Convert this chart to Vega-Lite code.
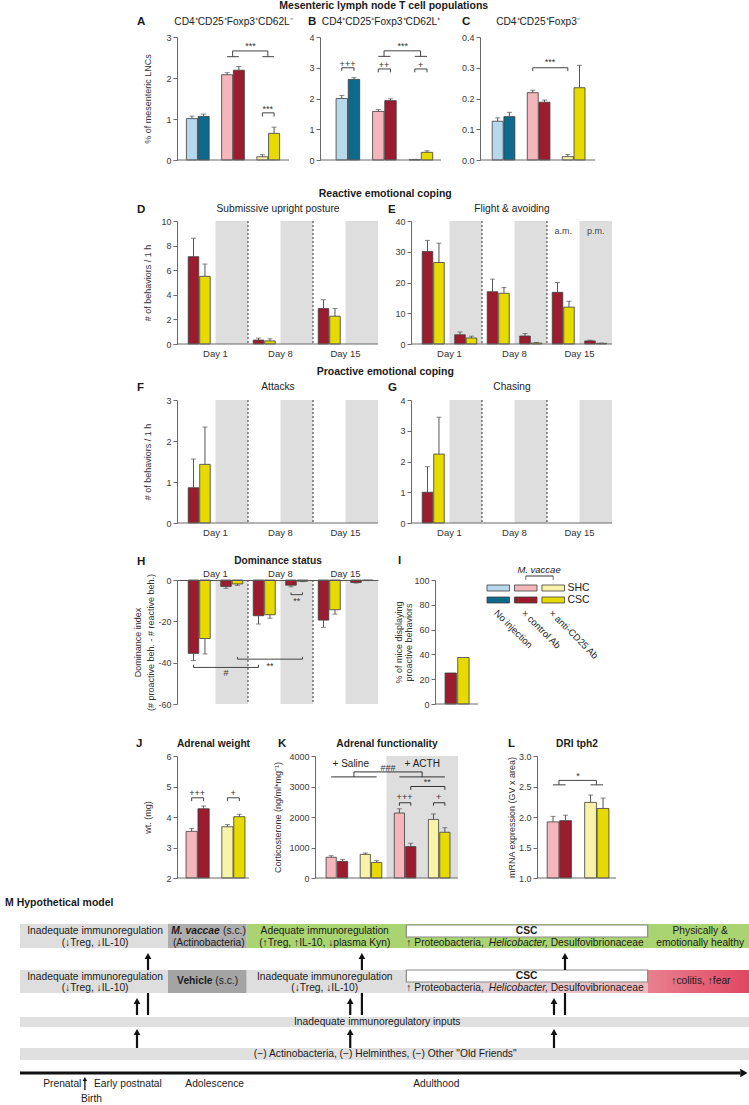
{
"$schema":"https://vega.github.io/schema/vega-lite/v6.json",
"padding":{"left":5,"top":1,"right":0,"bottom":0},
"spacing":0,
"resolve":{"scale":{"color":"independent"}},
"datasets":{
"bars":[
{"p":"A","slot":"noinj_SHC","grp":"noinj_SHC","m":1.01,"hi":1.07},{"p":"A","slot":"noinj_CSC","grp":"noinj_CSC","m":1.06,"hi":1.12},{"p":"A","slot":"ctrl_SHC","grp":"ctrl_SHC","m":2.08,"hi":2.13},{"p":"A","slot":"ctrl_CSC","grp":"ctrl_CSC","m":2.19,"hi":2.28},{"p":"A","slot":"anti_SHC","grp":"anti_SHC","m":0.08,"hi":0.13},{"p":"A","slot":"anti_CSC","grp":"anti_CSC","m":0.65,"hi":0.8},
{"p":"B","slot":"noinj_SHC","grp":"noinj_SHC","m":2.0,"hi":2.1},{"p":"B","slot":"noinj_CSC","grp":"noinj_CSC","m":2.62,"hi":2.68},{"p":"B","slot":"ctrl_SHC","grp":"ctrl_SHC","m":1.58,"hi":1.64},{"p":"B","slot":"ctrl_CSC","grp":"ctrl_CSC","m":1.93,"hi":1.99},{"p":"B","slot":"anti_SHC","grp":"anti_SHC","m":0.01,"hi":0.02},{"p":"B","slot":"anti_CSC","grp":"anti_CSC","m":0.25,"hi":0.3},
{"p":"C","slot":"noinj_SHC","grp":"noinj_SHC","m":0.126,"hi":0.137},{"p":"C","slot":"noinj_CSC","grp":"noinj_CSC","m":0.141,"hi":0.155},{"p":"C","slot":"ctrl_SHC","grp":"ctrl_SHC","m":0.219,"hi":0.227},{"p":"C","slot":"ctrl_CSC","grp":"ctrl_CSC","m":0.188,"hi":0.195},{"p":"C","slot":"anti_SHC","grp":"anti_SHC","m":0.011,"hi":0.018},{"p":"C","slot":"anti_CSC","grp":"anti_CSC","m":0.235,"hi":0.308},
{"p":"I","slot":"ctrl_CSC","grp":"ctrl_CSC","m":25},{"p":"I","slot":"anti_CSC","grp":"anti_CSC","m":37.5},
{"p":"J","slot":"ctrl_SHC","grp":"ctrl_SHC","m":3.53,"hi":3.62},{"p":"J","slot":"ctrl_CSC","grp":"ctrl_CSC","m":4.27,"hi":4.36},{"p":"J","slot":"anti_SHC","grp":"anti_SHC","m":3.68,"hi":3.75},{"p":"J","slot":"anti_CSC","grp":"anti_CSC","m":4.01,"hi":4.09},
{"p":"K","slot":"sal_ctrl_SHC","grp":"ctrl_SHC","m":680,"hi":730},{"p":"K","slot":"sal_ctrl_CSC","grp":"ctrl_CSC","m":545,"hi":610},{"p":"K","slot":"sal_anti_SHC","grp":"anti_SHC","m":775,"hi":820},{"p":"K","slot":"sal_anti_CSC","grp":"anti_CSC","m":510,"hi":570},{"p":"K","slot":"acth_ctrl_SHC","grp":"ctrl_SHC","m":2130,"hi":2270},{"p":"K","slot":"acth_ctrl_CSC","grp":"ctrl_CSC","m":1030,"hi":1140},{"p":"K","slot":"acth_anti_SHC","grp":"anti_SHC","m":1920,"hi":2100},{"p":"K","slot":"acth_anti_CSC","grp":"anti_CSC","m":1500,"hi":1650},
{"p":"L","slot":"ctrl_SHC","grp":"ctrl_SHC","m":1.92,"hi":2.01},{"p":"L","slot":"ctrl_CSC","grp":"ctrl_CSC","m":1.94,"hi":2.03},{"p":"L","slot":"anti_SHC","grp":"anti_SHC","m":2.24,"hi":2.36},{"p":"L","slot":"anti_CSC","grp":"anti_CSC","m":2.14,"hi":2.31}
],
"brkC":[
{"p":"A","id":"a1","slot":"ctrl_SHC","y":2.52,"o":1},{"p":"A","id":"a1","slot":"ctrl_CSC","y":2.52,"o":2},
{"p":"A","id":"a2","slot":"anti_SHC","y":2.52,"o":1},{"p":"A","id":"a2","slot":"anti_CSC","y":2.52,"o":2},
{"p":"A","id":"a3","slot":"anti_SHC","y":1.06,"o":1},{"p":"A","id":"a3","slot":"anti_SHC","y":1.15,"o":2},{"p":"A","id":"a3","slot":"anti_CSC","y":1.15,"o":3},{"p":"A","id":"a3","slot":"anti_CSC","y":1.06,"o":4},
{"p":"B","id":"b1","slot":"noinj_SHC","y":2.9,"o":1},{"p":"B","id":"b1","slot":"noinj_SHC","y":3.0,"o":2},{"p":"B","id":"b1","slot":"noinj_CSC","y":3.0,"o":3},{"p":"B","id":"b1","slot":"noinj_CSC","y":2.9,"o":4},
{"p":"B","id":"b2","slot":"ctrl_SHC","y":2.85,"o":1},{"p":"B","id":"b2","slot":"ctrl_SHC","y":2.96,"o":2},{"p":"B","id":"b2","slot":"ctrl_CSC","y":2.96,"o":3},{"p":"B","id":"b2","slot":"ctrl_CSC","y":2.85,"o":4},
{"p":"B","id":"b3","slot":"anti_SHC","y":2.85,"o":1},{"p":"B","id":"b3","slot":"anti_SHC","y":2.96,"o":2},{"p":"B","id":"b3","slot":"anti_CSC","y":2.96,"o":3},{"p":"B","id":"b3","slot":"anti_CSC","y":2.85,"o":4},
{"p":"B","id":"b4","slot":"ctrl_SHC","y":3.37,"o":1},{"p":"B","id":"b4","slot":"ctrl_CSC","y":3.37,"o":2},
{"p":"B","id":"b5","slot":"anti_SHC","y":3.37,"o":1},{"p":"B","id":"b5","slot":"anti_CSC","y":3.37,"o":2},
{"p":"C","id":"c1","slot":"ctrl_SHC","y":0.289,"o":1},{"p":"C","id":"c1","slot":"ctrl_SHC","y":0.3,"o":2},{"p":"C","id":"c1","slot":"anti_SHC","y":0.3,"o":3},{"p":"C","id":"c1","slot":"anti_SHC","y":0.289,"o":4},
{"p":"J","id":"j1","slot":"ctrl_SHC","y":4.52,"o":1},{"p":"J","id":"j1","slot":"ctrl_SHC","y":4.63,"o":2},{"p":"J","id":"j1","slot":"ctrl_CSC","y":4.63,"o":3},{"p":"J","id":"j1","slot":"ctrl_CSC","y":4.52,"o":4},
{"p":"J","id":"j2","slot":"anti_SHC","y":4.52,"o":1},{"p":"J","id":"j2","slot":"anti_SHC","y":4.63,"o":2},{"p":"J","id":"j2","slot":"anti_CSC","y":4.63,"o":3},{"p":"J","id":"j2","slot":"anti_CSC","y":4.52,"o":4},
{"p":"K","id":"k1","slot":"sal_ctrl_SHC","y":3315,"o":1},{"p":"K","id":"k1","slot":"sal_anti_CSC","y":3315,"o":2},
{"p":"K","id":"k2","slot":"acth_ctrl_SHC","y":3315,"o":1},{"p":"K","id":"k2","slot":"acth_anti_CSC","y":3315,"o":2},
{"p":"K","id":"k3","slot":"g1","y":3315,"o":1},{"p":"K","id":"k3","slot":"g1","y":3478,"o":2},{"p":"K","id":"k3","slot":"g3","y":3478,"o":3},{"p":"K","id":"k3","slot":"g3","y":3315,"o":4},
{"p":"K","id":"k4","slot":"acth_ctrl_CSC","y":2890,"o":1},{"p":"K","id":"k4","slot":"acth_ctrl_CSC","y":3000,"o":2},{"p":"K","id":"k4","slot":"acth_anti_CSC","y":3000,"o":3},{"p":"K","id":"k4","slot":"acth_anti_CSC","y":2890,"o":4},
{"p":"K","id":"k5","slot":"acth_ctrl_SHC","y":2370,"o":1},{"p":"K","id":"k5","slot":"acth_ctrl_SHC","y":2467,"o":2},{"p":"K","id":"k5","slot":"acth_ctrl_CSC","y":2467,"o":3},{"p":"K","id":"k5","slot":"acth_ctrl_CSC","y":2370,"o":4},
{"p":"K","id":"k6","slot":"acth_anti_SHC","y":2370,"o":1},{"p":"K","id":"k6","slot":"acth_anti_SHC","y":2467,"o":2},{"p":"K","id":"k6","slot":"acth_anti_CSC","y":2467,"o":3},{"p":"K","id":"k6","slot":"acth_anti_CSC","y":2370,"o":4},
{"p":"L","id":"l1","slot":"ctrl_SHC","y":2.527,"o":1},{"p":"L","id":"l1","slot":"ctrl_CSC","y":2.527,"o":2},
{"p":"L","id":"l2","slot":"anti_SHC","y":2.527,"o":1},{"p":"L","id":"l2","slot":"anti_CSC","y":2.527,"o":2}
],
"brkE":[
{"p":"A","id":"ae","slot":"ctrl_SHC","y":2.52,"o":1},{"p":"A","id":"ae","slot":"ctrl_SHC","y":2.66,"o":2},{"p":"A","id":"ae","slot":"anti_SHC","y":2.66,"o":3},{"p":"A","id":"ae","slot":"anti_SHC","y":2.52,"o":4},
{"p":"B","id":"be","slot":"ctrl_SHC","y":3.37,"o":1},{"p":"B","id":"be","slot":"ctrl_SHC","y":3.55,"o":2},{"p":"B","id":"be","slot":"anti_SHC","y":3.55,"o":3},{"p":"B","id":"be","slot":"anti_SHC","y":3.37,"o":4},
{"p":"L","id":"le","slot":"ctrl_SHC","y":2.527,"o":1},{"p":"L","id":"le","slot":"ctrl_SHC","y":2.6,"o":2},{"p":"L","id":"le","slot":"anti_SHC","y":2.6,"o":3},{"p":"L","id":"le","slot":"anti_SHC","y":2.527,"o":4}
],
"sigC":[
{"p":"A","slot":"g2","y":2.78,"t":"***"},{"p":"B","slot":"g2","y":3.7,"t":"***"},{"p":"K","slot":"g2","y":3610,"t":"###"},{"p":"L","slot":"g1","y":2.68,"t":"*"}
],
"sigE":[
{"p":"A","slot":"anti_SHC","y":1.24,"t":"***"},
{"p":"B","slot":"noinj_SHC","y":3.13,"t":"+++"},{"p":"B","slot":"ctrl_SHC","y":3.09,"t":"++"},{"p":"B","slot":"anti_SHC","y":3.09,"t":"+"},
{"p":"C","slot":"ctrl_CSC","y":0.318,"t":"***"},
{"p":"J","slot":"ctrl_SHC","y":4.79,"t":"+++"},{"p":"J","slot":"anti_SHC","y":4.79,"t":"+"},
{"p":"K","slot":"g3","y":3160,"t":"**"},{"p":"K","slot":"acth_ctrl_SHC","y":2640,"t":"+++"},{"p":"K","slot":"acth_anti_SHC","y":2640,"t":"+"}
],
"dbars":[
{"p":"D","slot":"d1am","grp":"ctrl_CSC","m":7.1,"hi":8.6},{"p":"D","slot":"d1am","grp":"anti_CSC","m":5.5,"hi":6.5},{"p":"D","slot":"d8am","grp":"ctrl_CSC","m":0.32,"hi":0.48},{"p":"D","slot":"d8am","grp":"anti_CSC","m":0.25,"hi":0.42},{"p":"D","slot":"d15am","grp":"ctrl_CSC","m":2.88,"hi":3.6},{"p":"D","slot":"d15am","grp":"anti_CSC","m":2.26,"hi":2.88},
{"p":"E","slot":"d1am","grp":"ctrl_CSC","m":30.05,"hi":33.7},{"p":"E","slot":"d1am","grp":"anti_CSC","m":26.5,"hi":32.8},{"p":"E","slot":"d1pm","grp":"ctrl_CSC","m":3.0,"hi":3.9},{"p":"E","slot":"d1pm","grp":"anti_CSC","m":1.95,"hi":2.55},{"p":"E","slot":"d8am","grp":"ctrl_CSC","m":17,"hi":21.1},{"p":"E","slot":"d8am","grp":"anti_CSC","m":16.5,"hi":18.4},{"p":"E","slot":"d8pm","grp":"ctrl_CSC","m":2.6,"hi":3.4},{"p":"E","slot":"d8pm","grp":"anti_CSC","m":0.3,"hi":0.5},{"p":"E","slot":"d15am","grp":"ctrl_CSC","m":16.8,"hi":20.0},{"p":"E","slot":"d15am","grp":"anti_CSC","m":12,"hi":13.9},{"p":"E","slot":"d15pm","grp":"ctrl_CSC","m":1.0,"hi":1.25},{"p":"E","slot":"d15pm","grp":"anti_CSC","m":0.2,"hi":0.3},
{"p":"F","slot":"d1am","grp":"ctrl_CSC","m":0.86,"hi":1.56},{"p":"F","slot":"d1am","grp":"anti_CSC","m":1.43,"hi":2.34},
{"p":"G","slot":"d1am","grp":"ctrl_CSC","m":1.0,"hi":1.83},{"p":"G","slot":"d1am","grp":"anti_CSC","m":2.24,"hi":3.44},
{"p":"H","slot":"d1am","grp":"ctrl_CSC","m":-35.5,"hi":-39},{"p":"H","slot":"d1am","grp":"anti_CSC","m":-28.3,"hi":-35.8},{"p":"H","slot":"d1pm","grp":"ctrl_CSC","m":-3.1,"hi":-4.0},{"p":"H","slot":"d1pm","grp":"anti_CSC","m":-1.9,"hi":-2.6},{"p":"H","slot":"d8am","grp":"ctrl_CSC","m":-17.3,"hi":-21.3},{"p":"H","slot":"d8am","grp":"anti_CSC","m":-16.8,"hi":-18.5},{"p":"H","slot":"d8pm","grp":"ctrl_CSC","m":-2.5,"hi":-3.3},{"p":"H","slot":"d8pm","grp":"anti_CSC","m":-0.6,"hi":-0.8},{"p":"H","slot":"d15am","grp":"ctrl_CSC","m":-19.4,"hi":-22.9},{"p":"H","slot":"d15am","grp":"anti_CSC","m":-14.4,"hi":-16.5},{"p":"H","slot":"d15pm","grp":"ctrl_CSC","m":-1.2,"hi":-1.5},{"p":"H","slot":"d15pm","grp":"anti_CSC","m":-0.2,"hi":-0.3}
],
"dgray":[{"slot":"d1pm"},{"slot":"d8pm"},{"slot":"d15pm"}],
"dsep":[{"slot":"d8am"},{"slot":"d15am"}],
"dlab":[{"slot":"d1am","t":"Day 1"},{"slot":"d8am","t":"Day 8"},{"slot":"d15am","t":"Day 15"}],
"dnote":[{"p":"E","slot":"d15am","y":36.8,"t":"a.m."},{"p":"E","slot":"d15pm","y":36.8,"t":"p.m."},{"p":"H","slot":"d8pm","y":-10.3,"t":"**"}],
"dbrk":[
{"p":"H","id":"h1","slot":"d8pm","grp":"ctrl_CSC","y":-6.0,"o":1},{"p":"H","id":"h1","slot":"d8pm","grp":"ctrl_CSC","y":-7.1,"o":2},{"p":"H","id":"h1","slot":"d8pm","grp":"anti_CSC","y":-7.1,"o":3},{"p":"H","id":"h1","slot":"d8pm","grp":"anti_CSC","y":-6.0,"o":4},
{"p":"H","id":"h2","slot":"d1am","grp":"ctrl_CSC","y":-41.0,"o":1},{"p":"H","id":"h2","slot":"d1am","grp":"ctrl_CSC","y":-42.3,"o":2},{"p":"H","id":"h2","slot":"d8am","grp":"ctrl_CSC","y":-42.3,"o":3},{"p":"H","id":"h2","slot":"d8am","grp":"ctrl_CSC","y":-41.0,"o":4},
{"p":"H","id":"h3","slot":"d1pm","grp":"anti_CSC","y":-37.2,"o":1},{"p":"H","id":"h3","slot":"d1pm","grp":"anti_CSC","y":-38.3,"o":2},{"p":"H","id":"h3","slot":"d8pm","grp":"anti_CSC","y":-38.3,"o":3},{"p":"H","id":"h3","slot":"d8pm","grp":"anti_CSC","y":-37.2,"o":4}
],
"dsig":[{"p":"H","slot":"d1pm","grp":"ctrl_CSC","y":-44.8,"t":"#"},{"p":"H","slot":"d8am","grp":"anti_CSC","y":-41.6,"t":"**"}],
"leg":[{"col":"noinj","row":"SHC","grp":"noinj_SHC"},{"col":"noinj","row":"CSC","grp":"noinj_CSC"},{"col":"ctrl","row":"SHC","grp":"ctrl_SHC"},{"col":"ctrl","row":"CSC","grp":"ctrl_CSC"},{"col":"anti","row":"SHC","grp":"anti_SHC"},{"col":"anti","row":"CSC","grp":"anti_CSC"}],
"legrow":[{"col":"anti","row":"SHC"},{"col":"anti","row":"CSC"}],
"legcol":[{"col":"noinj","row":"CSC","t":"No injection"},{"col":"ctrl","row":"CSC","t":"× control Ab"},{"col":"anti","row":"CSC","t":"× anti-CD25 Ab"}],
"legmv":[{"from":"ctrl","to":"anti","row":"SHC","t":"M. vaccae"}],
"legbr":[{"col":"ctrl","row":"SHC"},{"col":"anti","row":"SHC"}],
"kcond":[{"c":"Saline","t":"+ Saline"},{"c":"ACTH","t":"+ ACTH"}],
"mbox":[
{"x1":0,"x2":20.3,"y1":4,"y2":28,"k":"inadequate"},{"x1":20.3,"x2":31.1,"y1":4,"y2":28,"k":"mvaccae"},{"x1":31.1,"x2":100,"y1":4,"y2":28,"k":"adequate"},
{"x1":0,"x2":20.3,"y1":50,"y2":73,"k":"inadequate"},{"x1":20.3,"x2":31.1,"y1":50,"y2":73,"k":"vehicle"},{"x1":31.1,"x2":53,"y1":50,"y2":73,"k":"inadequate"},
{"x1":0,"x2":100,"y1":97,"y2":107,"k":"inputs"},{"x1":0,"x2":100,"y1":128,"y2":140,"k":"inputs"}
],
"mg1":[{"x1":53,"x2":86.1,"y1":50,"y2":73}],
"mg2":[{"x1":86.1,"x2":100,"y1":50,"y2":73}],
"mwhite":[{"x1":53,"x2":86.1,"y1":5,"y2":17},{"x1":53,"x2":86.1,"y1":50,"y2":62}],
"mshaft":[
{"x":17.56,"y1":50,"y2":37},{"x":46.9,"y1":50,"y2":37},{"x":74.76,"y1":50,"y2":37},
{"x":16.05,"y1":95,"y2":82},{"x":45.3,"y1":95,"y2":82},{"x":73.25,"y1":95,"y2":82},
{"x":17.56,"y1":73,"y2":95},{"x":46.9,"y1":73,"y2":95},{"x":74.76,"y1":73,"y2":95},
{"x":16.05,"y1":128,"y2":113},{"x":45.3,"y1":128,"y2":113},{"x":73.25,"y1":128,"y2":113}
],
"mhead":[{"x":17.56,"y":36},{"x":46.9,"y":36},{"x":74.76,"y":36},{"x":16.05,"y":81},{"x":45.3,"y":81},{"x":73.25,"y":81},{"x":16.05,"y":112},{"x":45.3,"y":112},{"x":73.25,"y":112}],
"mbirth":[{"x":8.9,"y1":170,"y2":160}],
"mbirthhead":[{"x":8.9,"y":159}],
"mtime":[{"x1":0,"x2":98.8,"y":153}],
"mtimehead":[{"x":99.3,"y":153}],
"mtc":[
{"x":10.3,"y":11,"t":"Inadequate immunoregulation"},{"x":10.3,"y":23,"t":"(↓Treg, ↓IL-10)"},{"x":25.9,"y":23,"t":"(Actinobacteria)"},
{"x":41.8,"y":11,"t":"Adequate immunoregulation"},{"x":41.8,"y":23,"t":"(↑Treg, ↑IL-10, ↓plasma Kyn)"},
{"x":93.3,"y":11,"t":"Physically &"},{"x":93.3,"y":23,"t":"emotionally healthy"},
{"x":10.3,"y":57,"t":"Inadequate immunoregulation"},{"x":10.3,"y":68,"t":"(↓Treg, ↓IL-10)"},
{"x":41.8,"y":57,"t":"Inadequate immunoregulation"},{"x":41.8,"y":68,"t":"(↓Treg, ↓IL-10)"},
{"x":93.4,"y":61,"t":"↑colitis, ↑fear"},
{"x":49.0,"y":102,"t":"Inadequate immunoregulatory inputs"},
{"x":50.1,"y":134,"t":"(−) Actinobacteria, (−) Helminthes, (−) Other \"Old Friends\""},
{"x":5.8,"y":164,"t":"Prenatal"},{"x":14.8,"y":164,"t":"Early postnatal"},{"x":26.7,"y":164,"t":"Adolescence"},{"x":57.1,"y":164,"t":"Adulthood"},{"x":9.8,"y":179,"t":"Birth"}
],
"mtb":[{"x":69.5,"y":11,"t":"CSC"},{"x":69.5,"y":56,"t":"CSC"}],
"mtbil":[{"x":20.75,"y":11,"t":"M. vaccae"}],
"mtbr":[{"x":26.4,"y":61,"t":"Vehicle"}],
"mtl":[{"x":27.85,"y":11,"t":"(s.c.)"},{"x":26.8,"y":61,"t":"(s.c.)"},{"x":53,"y":23,"t":"↑ Proteobacteria,"},{"x":72.8,"y":23,"t":"Desulfovibrionaceae"},{"x":53,"y":68,"t":"↑ Proteobacteria,"},{"x":72.8,"y":68,"t":"Desulfovibrionaceae"}],
"mtil":[{"x":64.3,"y":23,"t":"Helicobacter,"},{"x":64.3,"y":68,"t":"Helicobacter,"}]
},
"vconcat":[
{"title":{"text":"Mesenteric lymph node T cell populations","fontSize":10.5,"anchor":"middle","offset":4.5,"dx":76},
 "spacing":0,
 "hconcat":[
  {"width":117,"height":1,"data":{"values":[]},"mark":"point"},
  {"width":112,"height":123,"title":{"text":"A","anchor":"start","frame":"group","dx":-40,"dy":15.5},
   "layer":[
    {"data":{"name":"bars"},"transform":[{"filter":"datum.p==='A'"}],"mark":{"type":"bar","stroke":"#3c3c3c","strokeWidth":0.8},
     "encoding":{"x":{"field":"slot","type":"nominal","scale":{"domain":["noinj_SHC","noinj_CSC","g1","ctrl_SHC","ctrl_CSC","g2","anti_SHC","anti_CSC"],"paddingInner":0.06,"paddingOuter":0.8},"axis":{"orient":"top","title":"CD4⁺CD25⁺Foxp3⁺CD62L⁻","titlePadding":11}},
      "y":{"field":"m","type":"quantitative","scale":{"domain":[0,3],"nice":false},"axis":{"values":[0,1,2,3],"format":"d","tickCount":12,"labelOverlap":false,"title":"% of mesenteric LNCs","titlePadding":13.5}},
      "color":{"field":"grp","type":"nominal","scale":{"domain":["noinj_SHC","noinj_CSC","ctrl_SHC","ctrl_CSC","anti_SHC","anti_CSC"],"range":["#b8d8eb","#0d6a8d","#f4b6ba","#9c1c2f","#f8f3a8","#e6da00"]},"legend":null}}},
    {"data":{"name":"bars"},"transform":[{"filter":"datum.p==='A'"}],"mark":{"type":"rule","color":"#555"},"encoding":{"x":{"field":"slot","type":"nominal"},"y":{"field":"m","type":"quantitative"},"y2":{"field":"hi"}}},
    {"data":{"name":"bars"},"transform":[{"filter":"datum.p==='A'"}],"mark":{"type":"tick","color":"#555","size":5,"thickness":1},"encoding":{"x":{"field":"slot","type":"nominal"},"y":{"field":"hi","type":"quantitative"}}},
    {"data":{"values":[{}]},"mark":{"type":"rule","color":"#6a6a6a"},"encoding":{"y":{"datum":0,"type":"quantitative"}}},
    {"data":{"name":"brkC"},"transform":[{"filter":"datum.p==='A'"}],"mark":{"type":"line","color":"#444","strokeWidth":1},"encoding":{"x":{"field":"slot","type":"nominal"},"y":{"field":"y","type":"quantitative"},"detail":{"field":"id"},"order":{"field":"o"}}},
    {"data":{"name":"brkE"},"transform":[{"filter":"datum.p==='A'"}],"mark":{"type":"line","color":"#444","strokeWidth":1},"encoding":{"x":{"field":"slot","type":"nominal","bandPosition":1},"y":{"field":"y","type":"quantitative"},"detail":{"field":"id"},"order":{"field":"o"}}},
    {"data":{"name":"sigC"},"transform":[{"filter":"datum.p==='A'"}],"mark":{"type":"text","fontSize":9,"color":"#333","baseline":"middle"},"encoding":{"x":{"field":"slot","type":"nominal"},"y":{"field":"y","type":"quantitative"},"text":{"field":"t"}}},
    {"data":{"name":"sigE"},"transform":[{"filter":"datum.p==='A'"}],"mark":{"type":"text","fontSize":9,"color":"#333","baseline":"middle"},"encoding":{"x":{"field":"slot","type":"nominal","bandPosition":1},"y":{"field":"y","type":"quantitative"},"text":{"field":"t"}}}
   ]},
  {"width":14.5,"height":1,"data":{"values":[]},"mark":"point"},
  {"width":121,"height":123,"title":{"text":"B","anchor":"start","frame":"group","dx":-12,"dy":15.5},
   "layer":[
    {"data":{"name":"bars"},"transform":[{"filter":"datum.p==='B'"}],"mark":{"type":"bar","stroke":"#3c3c3c","strokeWidth":0.8},
     "encoding":{"x":{"field":"slot","type":"nominal","scale":{"domain":["noinj_SHC","noinj_CSC","g1","ctrl_SHC","ctrl_CSC","g2","anti_SHC","anti_CSC"],"paddingInner":0.06,"paddingOuter":1.17,"align":0.66},"axis":{"orient":"top","title":"CD4⁺CD25⁺Foxp3⁺CD62L⁺","titlePadding":11}},
      "y":{"field":"m","type":"quantitative","scale":{"domain":[0,4],"nice":false},"axis":{"values":[0,1,2,3,4],"format":"d","tickCount":12,"labelOverlap":false,"title":null}},
      "color":{"field":"grp","type":"nominal","scale":{"domain":["noinj_SHC","noinj_CSC","ctrl_SHC","ctrl_CSC","anti_SHC","anti_CSC"],"range":["#b8d8eb","#0d6a8d","#f4b6ba","#9c1c2f","#f8f3a8","#e6da00"]},"legend":null}}},
    {"data":{"name":"bars"},"transform":[{"filter":"datum.p==='B'"}],"mark":{"type":"rule","color":"#555"},"encoding":{"x":{"field":"slot","type":"nominal"},"y":{"field":"m","type":"quantitative"},"y2":{"field":"hi"}}},
    {"data":{"name":"bars"},"transform":[{"filter":"datum.p==='B'"}],"mark":{"type":"tick","color":"#555","size":5,"thickness":1},"encoding":{"x":{"field":"slot","type":"nominal"},"y":{"field":"hi","type":"quantitative"}}},
    {"data":{"values":[{}]},"mark":{"type":"rule","color":"#6a6a6a"},"encoding":{"y":{"datum":0,"type":"quantitative"}}},
    {"data":{"name":"brkC"},"transform":[{"filter":"datum.p==='B'"}],"mark":{"type":"line","color":"#444","strokeWidth":1},"encoding":{"x":{"field":"slot","type":"nominal"},"y":{"field":"y","type":"quantitative"},"detail":{"field":"id"},"order":{"field":"o"}}},
    {"data":{"name":"brkE"},"transform":[{"filter":"datum.p==='B'"}],"mark":{"type":"line","color":"#444","strokeWidth":1},"encoding":{"x":{"field":"slot","type":"nominal","bandPosition":1},"y":{"field":"y","type":"quantitative"},"detail":{"field":"id"},"order":{"field":"o"}}},
    {"data":{"name":"sigC"},"transform":[{"filter":"datum.p==='B'"}],"mark":{"type":"text","fontSize":9,"color":"#333","baseline":"middle"},"encoding":{"x":{"field":"slot","type":"nominal"},"y":{"field":"y","type":"quantitative"},"text":{"field":"t"}}},
    {"data":{"name":"sigE"},"transform":[{"filter":"datum.p==='B'"}],"mark":{"type":"text","fontSize":9,"color":"#333","baseline":"middle"},"encoding":{"x":{"field":"slot","type":"nominal","bandPosition":1},"y":{"field":"y","type":"quantitative"},"text":{"field":"t"}}}
   ]},
  {"width":19,"height":1,"data":{"values":[]},"mark":"point"},
  {"width":115,"height":123,"title":{"text":"C","anchor":"start","frame":"group","dx":-18,"dy":15.5},
   "layer":[
    {"data":{"name":"bars"},"transform":[{"filter":"datum.p==='C'"}],"mark":{"type":"bar","stroke":"#3c3c3c","strokeWidth":0.8},
     "encoding":{"x":{"field":"slot","type":"nominal","scale":{"domain":["noinj_SHC","noinj_CSC","g1","ctrl_SHC","ctrl_CSC","g2","anti_SHC","anti_CSC"],"paddingInner":0.06,"paddingOuter":0.95,"align":0.55},"axis":{"orient":"top","title":"CD4⁺CD25⁺Foxp3⁻","titlePadding":11}},
      "y":{"field":"m","type":"quantitative","scale":{"domain":[0,0.4],"nice":false},"axis":{"values":[0,0.1,0.2,0.3,0.4],"tickCount":12,"labelOverlap":false,"format":".1f","title":null}},
      "color":{"field":"grp","type":"nominal","scale":{"domain":["noinj_SHC","noinj_CSC","ctrl_SHC","ctrl_CSC","anti_SHC","anti_CSC"],"range":["#b8d8eb","#0d6a8d","#f4b6ba","#9c1c2f","#f8f3a8","#e6da00"]},"legend":null}}},
    {"data":{"name":"bars"},"transform":[{"filter":"datum.p==='C'"}],"mark":{"type":"rule","color":"#555"},"encoding":{"x":{"field":"slot","type":"nominal"},"y":{"field":"m","type":"quantitative"},"y2":{"field":"hi"}}},
    {"data":{"name":"bars"},"transform":[{"filter":"datum.p==='C'"}],"mark":{"type":"tick","color":"#555","size":5,"thickness":1},"encoding":{"x":{"field":"slot","type":"nominal"},"y":{"field":"hi","type":"quantitative"}}},
    {"data":{"values":[{}]},"mark":{"type":"rule","color":"#6a6a6a"},"encoding":{"y":{"datum":0,"type":"quantitative"}}},
    {"data":{"name":"brkC"},"transform":[{"filter":"datum.p==='C'"}],"mark":{"type":"line","color":"#444","strokeWidth":1},"encoding":{"x":{"field":"slot","type":"nominal"},"y":{"field":"y","type":"quantitative"},"detail":{"field":"id"},"order":{"field":"o"}}},
    {"data":{"name":"sigE"},"transform":[{"filter":"datum.p==='C'"}],"mark":{"type":"text","fontSize":9,"color":"#333","baseline":"middle"},"encoding":{"x":{"field":"slot","type":"nominal","bandPosition":1},"y":{"field":"y","type":"quantitative"},"text":{"field":"t"}}}
   ]}
 ]},
{"width":1,"height":23,"data":{"values":[]},"mark":"point"},
{"title":{"text":"Reactive emotional coping","fontSize":10.5,"anchor":"middle","offset":4.5,"dx":69},
 "spacing":0,
 "hconcat":[
  {"width":117,"height":1,"data":{"values":[]},"mark":"point"},
  {"width":201,"height":123,"title":{"text":"D","anchor":"start","frame":"group","dx":-40,"dy":15.5},
   "layer":[
    {"data":{"name":"dgray"},"mark":{"type":"rect","color":"#dedede"},"encoding":{"x":{"field":"slot","type":"nominal","scale":{"domain":["d1am","d1pm","d8am","d8pm","d15am","d15pm"],"paddingInner":0,"paddingOuter":0.092,"align":1},"axis":{"orient":"top","title":"Submissive upright posture","titlePadding":7.3}}}},
    {"data":{"name":"dsep"},"mark":{"type":"rule","color":"#333","strokeDash":[2,2]},"encoding":{"x":{"field":"slot","type":"nominal","bandPosition":0}}},
    {"data":{"name":"dbars"},"transform":[{"filter":"datum.p==='D'"}],"mark":{"type":"bar","stroke":"#3c3c3c","strokeWidth":0.8},
     "encoding":{"x":{"field":"slot","type":"nominal"},"xOffset":{"field":"grp","type":"nominal","scale":{"domain":["ctrl_CSC","anti_CSC"],"paddingInner":0.08,"paddingOuter":0.457}},
      "y":{"field":"m","type":"quantitative","scale":{"domain":[0,10],"nice":false},"axis":{"values":[0,2,4,6,8,10],"format":"d","tickCount":12,"labelOverlap":false,"title":"# of behaviors / 1 h","titlePadding":8.5}},
      "color":{"field":"grp","type":"nominal","scale":{"domain":["noinj_SHC","noinj_CSC","ctrl_SHC","ctrl_CSC","anti_SHC","anti_CSC"],"range":["#b8d8eb","#0d6a8d","#f4b6ba","#9c1c2f","#f8f3a8","#e6da00"]},"legend":null}}},
    {"data":{"name":"dbars"},"transform":[{"filter":"datum.p==='D'"}],"mark":{"type":"rule","color":"#555"},"encoding":{"x":{"field":"slot","type":"nominal"},"xOffset":{"field":"grp","type":"nominal"},"y":{"field":"m","type":"quantitative"},"y2":{"field":"hi"}}},
    {"data":{"name":"dbars"},"transform":[{"filter":"datum.p==='D'"}],"mark":{"type":"tick","color":"#555","size":5,"thickness":1},"encoding":{"x":{"field":"slot","type":"nominal"},"xOffset":{"field":"grp","type":"nominal"},"y":{"field":"hi","type":"quantitative"}}},
    {"data":{"values":[{}]},"mark":{"type":"rule","color":"#6a6a6a"},"encoding":{"y":{"datum":0,"type":"quantitative"}}},
    {"data":{"name":"dlab"},"mark":{"type":"text","fontSize":9.5,"color":"#333","baseline":"middle","dy":10},"encoding":{"x":{"field":"slot","type":"nominal","bandPosition":1},"y":{"datum":0,"type":"quantitative"},"text":{"field":"t"}}}
   ]},
  {"width":9,"height":1,"data":{"values":[]},"mark":"point"},
  {"width":201,"height":123,"title":{"text":"E","anchor":"start","frame":"group","dx":-23,"dy":15.5},
   "layer":[
    {"data":{"name":"dgray"},"mark":{"type":"rect","color":"#dedede"},"encoding":{"x":{"field":"slot","type":"nominal","scale":{"domain":["d1am","d1pm","d8am","d8pm","d15am","d15pm"],"paddingInner":0,"paddingOuter":0.092,"align":1},"axis":{"orient":"top","title":"Flight & avoiding","titlePadding":7.3}}}},
    {"data":{"name":"dsep"},"mark":{"type":"rule","color":"#333","strokeDash":[2,2]},"encoding":{"x":{"field":"slot","type":"nominal","bandPosition":0}}},
    {"data":{"name":"dbars"},"transform":[{"filter":"datum.p==='E'"}],"mark":{"type":"bar","stroke":"#3c3c3c","strokeWidth":0.8},
     "encoding":{"x":{"field":"slot","type":"nominal"},"xOffset":{"field":"grp","type":"nominal","scale":{"domain":["ctrl_CSC","anti_CSC"],"paddingInner":0.08,"paddingOuter":0.457}},
      "y":{"field":"m","type":"quantitative","scale":{"domain":[0,40],"nice":false},"axis":{"values":[0,10,20,30,40],"format":"d","tickCount":12,"labelOverlap":false,"title":null}},
      "color":{"field":"grp","type":"nominal","scale":{"domain":["noinj_SHC","noinj_CSC","ctrl_SHC","ctrl_CSC","anti_SHC","anti_CSC"],"range":["#b8d8eb","#0d6a8d","#f4b6ba","#9c1c2f","#f8f3a8","#e6da00"]},"legend":null}}},
    {"data":{"name":"dbars"},"transform":[{"filter":"datum.p==='E'"}],"mark":{"type":"rule","color":"#555"},"encoding":{"x":{"field":"slot","type":"nominal"},"xOffset":{"field":"grp","type":"nominal"},"y":{"field":"m","type":"quantitative"},"y2":{"field":"hi"}}},
    {"data":{"name":"dbars"},"transform":[{"filter":"datum.p==='E'"}],"mark":{"type":"tick","color":"#555","size":5,"thickness":1},"encoding":{"x":{"field":"slot","type":"nominal"},"xOffset":{"field":"grp","type":"nominal"},"y":{"field":"hi","type":"quantitative"}}},
    {"data":{"values":[{}]},"mark":{"type":"rule","color":"#6a6a6a"},"encoding":{"y":{"datum":0,"type":"quantitative"}}},
    {"data":{"name":"dlab"},"mark":{"type":"text","fontSize":9.5,"color":"#333","baseline":"middle","dy":10},"encoding":{"x":{"field":"slot","type":"nominal","bandPosition":1},"y":{"datum":0,"type":"quantitative"},"text":{"field":"t"}}},
    {"data":{"name":"dnote"},"transform":[{"filter":"datum.p==='E'"}],"mark":{"type":"text","fontSize":9,"color":"#444","baseline":"middle"},"encoding":{"x":{"field":"slot","type":"nominal"},"y":{"field":"y","type":"quantitative"},"text":{"field":"t"}}}
   ]}
 ]},
{"width":1,"height":7,"data":{"values":[]},"mark":"point"},
{"title":{"text":"Proactive emotional coping","fontSize":10.5,"anchor":"middle","offset":4.5,"dx":69},
 "spacing":0,
 "hconcat":[
  {"width":117,"height":1,"data":{"values":[]},"mark":"point"},
  {"width":201,"height":123,"title":{"text":"F","anchor":"start","frame":"group","dx":-40,"dy":15.5},
   "layer":[
    {"data":{"name":"dgray"},"mark":{"type":"rect","color":"#dedede"},"encoding":{"x":{"field":"slot","type":"nominal","scale":{"domain":["d1am","d1pm","d8am","d8pm","d15am","d15pm"],"paddingInner":0,"paddingOuter":0.092,"align":1},"axis":{"orient":"top","title":"Attacks","titlePadding":8.3}}}},
    {"data":{"name":"dsep"},"mark":{"type":"rule","color":"#333","strokeDash":[2,2]},"encoding":{"x":{"field":"slot","type":"nominal","bandPosition":0}}},
    {"data":{"name":"dbars"},"transform":[{"filter":"datum.p==='F'"}],"mark":{"type":"bar","stroke":"#3c3c3c","strokeWidth":0.8},
     "encoding":{"x":{"field":"slot","type":"nominal"},"xOffset":{"field":"grp","type":"nominal","scale":{"domain":["ctrl_CSC","anti_CSC"],"paddingInner":0.08,"paddingOuter":0.457}},
      "y":{"field":"m","type":"quantitative","scale":{"domain":[0,3],"nice":false},"axis":{"values":[0,1,2,3],"format":"d","tickCount":12,"labelOverlap":false,"title":"# of behaviors / 1 h","titlePadding":13.5}},
      "color":{"field":"grp","type":"nominal","scale":{"domain":["noinj_SHC","noinj_CSC","ctrl_SHC","ctrl_CSC","anti_SHC","anti_CSC"],"range":["#b8d8eb","#0d6a8d","#f4b6ba","#9c1c2f","#f8f3a8","#e6da00"]},"legend":null}}},
    {"data":{"name":"dbars"},"transform":[{"filter":"datum.p==='F'"}],"mark":{"type":"rule","color":"#555"},"encoding":{"x":{"field":"slot","type":"nominal"},"xOffset":{"field":"grp","type":"nominal"},"y":{"field":"m","type":"quantitative"},"y2":{"field":"hi"}}},
    {"data":{"name":"dbars"},"transform":[{"filter":"datum.p==='F'"}],"mark":{"type":"tick","color":"#555","size":5,"thickness":1},"encoding":{"x":{"field":"slot","type":"nominal"},"xOffset":{"field":"grp","type":"nominal"},"y":{"field":"hi","type":"quantitative"}}},
    {"data":{"values":[{}]},"mark":{"type":"rule","color":"#6a6a6a"},"encoding":{"y":{"datum":0,"type":"quantitative"}}},
    {"data":{"name":"dlab"},"mark":{"type":"text","fontSize":9.5,"color":"#333","baseline":"middle","dy":10},"encoding":{"x":{"field":"slot","type":"nominal","bandPosition":1},"y":{"datum":0,"type":"quantitative"},"text":{"field":"t"}}}
   ]},
  {"width":9,"height":1,"data":{"values":[]},"mark":"point"},
  {"width":201,"height":123,"title":{"text":"G","anchor":"start","frame":"group","dx":-23,"dy":15.5},
   "layer":[
    {"data":{"name":"dgray"},"mark":{"type":"rect","color":"#dedede"},"encoding":{"x":{"field":"slot","type":"nominal","scale":{"domain":["d1am","d1pm","d8am","d8pm","d15am","d15pm"],"paddingInner":0,"paddingOuter":0.092,"align":1},"axis":{"orient":"top","title":"Chasing","titlePadding":8.3}}}},
    {"data":{"name":"dsep"},"mark":{"type":"rule","color":"#333","strokeDash":[2,2]},"encoding":{"x":{"field":"slot","type":"nominal","bandPosition":0}}},
    {"data":{"name":"dbars"},"transform":[{"filter":"datum.p==='G'"}],"mark":{"type":"bar","stroke":"#3c3c3c","strokeWidth":0.8},
     "encoding":{"x":{"field":"slot","type":"nominal"},"xOffset":{"field":"grp","type":"nominal","scale":{"domain":["ctrl_CSC","anti_CSC"],"paddingInner":0.08,"paddingOuter":0.457}},
      "y":{"field":"m","type":"quantitative","scale":{"domain":[0,4],"nice":false},"axis":{"values":[0,1,2,3,4],"format":"d","tickCount":12,"labelOverlap":false,"title":null}},
      "color":{"field":"grp","type":"nominal","scale":{"domain":["noinj_SHC","noinj_CSC","ctrl_SHC","ctrl_CSC","anti_SHC","anti_CSC"],"range":["#b8d8eb","#0d6a8d","#f4b6ba","#9c1c2f","#f8f3a8","#e6da00"]},"legend":null}}},
    {"data":{"name":"dbars"},"transform":[{"filter":"datum.p==='G'"}],"mark":{"type":"rule","color":"#555"},"encoding":{"x":{"field":"slot","type":"nominal"},"xOffset":{"field":"grp","type":"nominal"},"y":{"field":"m","type":"quantitative"},"y2":{"field":"hi"}}},
    {"data":{"name":"dbars"},"transform":[{"filter":"datum.p==='G'"}],"mark":{"type":"tick","color":"#555","size":5,"thickness":1},"encoding":{"x":{"field":"slot","type":"nominal"},"xOffset":{"field":"grp","type":"nominal"},"y":{"field":"hi","type":"quantitative"}}},
    {"data":{"values":[{}]},"mark":{"type":"rule","color":"#6a6a6a"},"encoding":{"y":{"datum":0,"type":"quantitative"}}},
    {"data":{"name":"dlab"},"mark":{"type":"text","fontSize":9.5,"color":"#333","baseline":"middle","dy":10},"encoding":{"x":{"field":"slot","type":"nominal","bandPosition":1},"y":{"datum":0,"type":"quantitative"},"text":{"field":"t"}}}
   ]}
 ]},
{"width":1,"height":17,"data":{"values":[]},"mark":"point"},
{"spacing":0,
 "hconcat":[
  {"width":112.5,"height":1,"data":{"values":[]},"mark":"point"},
  {"width":201,"height":124,"title":{"text":"H","anchor":"start","frame":"group","dx":-40,"dy":15.5},
   "layer":[
    {"data":{"name":"dgray"},"mark":{"type":"rect","color":"#dedede"},"encoding":{"x":{"field":"slot","type":"nominal","scale":{"domain":["d1am","d1pm","d8am","d8pm","d15am","d15pm"],"paddingInner":0,"paddingOuter":0.092,"align":1},"axis":{"orient":"top","labels":true,"domain":true,"ticks":false,"labelOffset":16.25,"labelAngle":0,"labelOverlap":false,"labelBound":false,"labelExpr":"datum.value=='d1am'?'Day 1':datum.value=='d8am'?'Day 8':datum.value=='d15am'?'Day 15':''","labelFontSize":9.5,"labelColor":"#333","labelPadding":1.5,"domainColor":"#555","title":"Dominance status","titleFontWeight":"bold","titleFontSize":10.2,"titlePadding":3}}}},
    {"data":{"name":"dsep"},"mark":{"type":"rule","color":"#333","strokeDash":[2,2]},"encoding":{"x":{"field":"slot","type":"nominal","bandPosition":0}}},
    {"data":{"name":"dbars"},"transform":[{"filter":"datum.p==='H'"}],"mark":{"type":"bar","stroke":"#3c3c3c","strokeWidth":0.8},
     "encoding":{"x":{"field":"slot","type":"nominal"},"xOffset":{"field":"grp","type":"nominal","scale":{"domain":["ctrl_CSC","anti_CSC"],"paddingInner":0.08,"paddingOuter":0.457}},
      "y":{"field":"m","type":"quantitative","scale":{"domain":[-60,0],"nice":false},"axis":{"values":[0,-20,-40,-60],"tickCount":12,"labelOverlap":false,"labelExpr":"''+datum.value","title":["Dominance index","(# proactive beh. - # reactive beh.)"],"titleLineHeight":13,"titlePadding":2.5}},
      "color":{"field":"grp","type":"nominal","scale":{"domain":["noinj_SHC","noinj_CSC","ctrl_SHC","ctrl_CSC","anti_SHC","anti_CSC"],"range":["#b8d8eb","#0d6a8d","#f4b6ba","#9c1c2f","#f8f3a8","#e6da00"]},"legend":null}}},
    {"data":{"name":"dbars"},"transform":[{"filter":"datum.p==='H'"}],"mark":{"type":"rule","color":"#555"},"encoding":{"x":{"field":"slot","type":"nominal"},"xOffset":{"field":"grp","type":"nominal"},"y":{"field":"m","type":"quantitative"},"y2":{"field":"hi"}}},
    {"data":{"name":"dbars"},"transform":[{"filter":"datum.p==='H'"}],"mark":{"type":"tick","color":"#555","size":5,"thickness":1},"encoding":{"x":{"field":"slot","type":"nominal"},"xOffset":{"field":"grp","type":"nominal"},"y":{"field":"hi","type":"quantitative"}}},
    {"data":{"name":"dbrk"},"transform":[{"filter":"datum.p==='H'"}],"mark":{"type":"line","color":"#444","strokeWidth":1},"encoding":{"x":{"field":"slot","type":"nominal"},"xOffset":{"field":"grp","type":"nominal"},"y":{"field":"y","type":"quantitative"},"detail":{"field":"id"},"order":{"field":"o"}}},
    {"data":{"name":"dsig"},"transform":[{"filter":"datum.p==='H'"}],"mark":{"type":"text","fontSize":9,"color":"#333","baseline":"middle"},"encoding":{"x":{"field":"slot","type":"nominal"},"xOffset":{"field":"grp","type":"nominal"},"y":{"field":"y","type":"quantitative"},"text":{"field":"t"}}},
    {"data":{"name":"dnote"},"transform":[{"filter":"datum.p==='H'"}],"mark":{"type":"text","fontSize":9,"color":"#333","baseline":"middle"},"encoding":{"x":{"field":"slot","type":"nominal"},"y":{"field":"y","type":"quantitative"},"text":{"field":"t"}}}
   ]},
  {"width":15.5,"height":1,"data":{"values":[]},"mark":"point"},
  {"width":43,"height":124,"title":{"text":"I","anchor":"start","frame":"group","dx":-37,"offset":9.5},
   "layer":[
    {"data":{"name":"bars"},"transform":[{"filter":"datum.p==='I'"}],"mark":{"type":"bar","stroke":"#3c3c3c","strokeWidth":0.8},
     "encoding":{"x":{"field":"slot","type":"nominal","scale":{"domain":["ctrl_CSC","anti_CSC"],"paddingInner":0.1,"paddingOuter":0.75,"align":0.53},"axis":null},
      "y":{"field":"m","type":"quantitative","scale":{"domain":[0,100],"nice":false},"axis":{"values":[0,20,40,60,80,100],"format":"d","tickCount":12,"labelOverlap":false,"title":["% of mice displaying","proactive behaviors"],"titleLineHeight":10,"titlePadding":0}},
      "color":{"field":"grp","type":"nominal","scale":{"domain":["noinj_SHC","noinj_CSC","ctrl_SHC","ctrl_CSC","anti_SHC","anti_CSC"],"range":["#b8d8eb","#0d6a8d","#f4b6ba","#9c1c2f","#f8f3a8","#e6da00"]},"legend":null}}},
    {"data":{"values":[{}]},"mark":{"type":"rule","color":"#6a6a6a"},"encoding":{"y":{"datum":0,"type":"quantitative"}}}
   ]},
  {"width":7,"height":1,"data":{"values":[]},"mark":"point"},
  {"width":77.5,"height":28,
   "layer":[
    {"data":{"name":"leg"},"mark":{"type":"rect","stroke":"#3c3c3c","strokeWidth":0.8},"encoding":{"x":{"field":"col","type":"nominal","scale":{"domain":["noinj","ctrl","anti"],"paddingInner":0.18,"paddingOuter":0},"axis":null},"y":{"field":"row","type":"nominal","scale":{"domain":["SHC","CSC"],"paddingInner":0.5,"paddingOuter":0.4167},"axis":null},
      "color":{"field":"grp","type":"nominal","scale":{"domain":["noinj_SHC","noinj_CSC","ctrl_SHC","ctrl_CSC","anti_SHC","anti_CSC"],"range":["#b8d8eb","#0d6a8d","#f4b6ba","#9c1c2f","#f8f3a8","#e6da00"]},"legend":null}}},
    {"data":{"name":"legrow"},"mark":{"type":"text","align":"left","baseline":"middle","dx":3,"fontSize":10.5,"color":"#222"},"encoding":{"x":{"field":"col","type":"nominal","bandPosition":1,"axis":null},"y":{"field":"row","type":"nominal","axis":null},"text":{"field":"row"}}},
    {"data":{"name":"legcol"},"mark":{"type":"text","align":"left","baseline":"top","angle":45,"fontSize":9.5,"color":"#222","xOffset":1,"yOffset":5},"encoding":{"x":{"field":"col","type":"nominal","axis":null},"y":{"field":"row","type":"nominal","bandPosition":1,"axis":null},"text":{"field":"t"}}},
    {"data":{"name":"legmv"},"mark":{"type":"rule","color":"#333","yOffset":-12},"encoding":{"x":{"field":"from","type":"nominal","axis":null},"x2":{"field":"to"},"y":{"field":"row","type":"nominal","axis":null}}},
    {"data":{"name":"legbr"},"mark":{"type":"tick","orient":"vertical","color":"#333","size":4,"thickness":1,"yOffset":-10},"encoding":{"x":{"field":"col","type":"nominal","axis":null},"y":{"field":"row","type":"nominal","axis":null}}},
    {"data":{"name":"legmv"},"mark":{"type":"text","fontStyle":"italic","fontSize":9.5,"color":"#222","baseline":"middle","dy":-18,"dx":2},"encoding":{"x":{"field":"from","type":"nominal","bandPosition":1,"axis":null},"y":{"field":"row","type":"nominal","axis":null},"text":{"field":"t"}}}
   ]}
 ]},
{"width":1,"height":27,"data":{"values":[]},"mark":"point"},
{"spacing":0,
 "hconcat":[
  {"width":116,"height":1,"data":{"values":[]},"mark":"point"},
  {"width":72,"height":122,"title":{"text":"J","anchor":"start","frame":"group","dx":-41,"dy":15.5},
   "layer":[
    {"data":{"name":"bars"},"transform":[{"filter":"datum.p==='J'"}],"mark":{"type":"bar","stroke":"#3c3c3c","strokeWidth":0.8},
     "encoding":{"x":{"field":"slot","type":"nominal","scale":{"domain":["ctrl_SHC","ctrl_CSC","g1","anti_SHC","anti_CSC"],"paddingInner":0.06,"paddingOuter":0.55,"align":0.69},"axis":{"orient":"top","title":"Adrenal weight","titleFontWeight":"bold","titlePadding":8}},
      "y":{"field":"m","type":"quantitative","scale":{"domain":[2,6],"nice":false,"zero":false},"axis":{"values":[2,3,4,5,6],"format":"d","tickCount":12,"labelOverlap":false,"title":"wt. (mg)","titlePadding":13.5}},
      "y2":{"datum":2},
      "color":{"field":"grp","type":"nominal","scale":{"domain":["noinj_SHC","noinj_CSC","ctrl_SHC","ctrl_CSC","anti_SHC","anti_CSC"],"range":["#b8d8eb","#0d6a8d","#f4b6ba","#9c1c2f","#f8f3a8","#e6da00"]},"legend":null}}},
    {"data":{"name":"bars"},"transform":[{"filter":"datum.p==='J'"}],"mark":{"type":"rule","color":"#555"},"encoding":{"x":{"field":"slot","type":"nominal"},"y":{"field":"m","type":"quantitative"},"y2":{"field":"hi"}}},
    {"data":{"name":"bars"},"transform":[{"filter":"datum.p==='J'"}],"mark":{"type":"tick","color":"#555","size":5,"thickness":1},"encoding":{"x":{"field":"slot","type":"nominal"},"y":{"field":"hi","type":"quantitative"}}},
    {"data":{"values":[{}]},"mark":{"type":"rule","color":"#6a6a6a"},"encoding":{"y":{"datum":2,"type":"quantitative"}}},
    {"data":{"name":"brkC"},"transform":[{"filter":"datum.p==='J'"}],"mark":{"type":"line","color":"#444","strokeWidth":1},"encoding":{"x":{"field":"slot","type":"nominal"},"y":{"field":"y","type":"quantitative"},"detail":{"field":"id"},"order":{"field":"o"}}},
    {"data":{"name":"sigE"},"transform":[{"filter":"datum.p==='J'"}],"mark":{"type":"text","fontSize":9,"color":"#333","baseline":"middle"},"encoding":{"x":{"field":"slot","type":"nominal","bandPosition":1},"y":{"field":"y","type":"quantitative"},"text":{"field":"t"}}}
   ]},
  {"width":23,"height":1,"data":{"values":[]},"mark":"point"},
  {"width":143,"height":122,"title":{"text":"K","anchor":"start","frame":"group","dx":-37,"dy":15.5},
   "resolve":{"scale":{"x":"independent"}},
   "layer":[
    {"data":{"name":"kcond"},
     "layer":[
      {"transform":[{"filter":"datum.c==='ACTH'"}],"mark":{"type":"rect","color":"#dedede"},"encoding":{"x":{"field":"c","type":"nominal","scale":{"domain":["Saline","ACTH"],"paddingInner":0,"paddingOuter":0},"axis":null}}},
      {"mark":{"type":"text","fontSize":10,"color":"#222","baseline":"middle"},"encoding":{"x":{"field":"c","type":"nominal","axis":null},"y":{"datum":3750,"type":"quantitative"},"text":{"field":"t"}}}
     ]},
    {"layer":[
      {"data":{"name":"bars"},"transform":[{"filter":"datum.p==='K'"}],"mark":{"type":"bar","stroke":"#3c3c3c","strokeWidth":0.8},
       "encoding":{"x":{"field":"slot","type":"nominal","scale":{"domain":["sal_ctrl_SHC","sal_ctrl_CSC","g1","sal_anti_SHC","sal_anti_CSC","g2","acth_ctrl_SHC","acth_ctrl_CSC","g3","acth_anti_SHC","acth_anti_CSC"],"paddingInner":0.1,"paddingOuter":0.84,"align":0.58},"axis":{"orient":"top","title":"Adrenal functionality","titleFontWeight":"bold","titlePadding":8}},
        "y":{"field":"m","type":"quantitative","scale":{"domain":[0,4000],"nice":false},"axis":{"values":[0,1000,2000,3000,4000],"tickCount":12,"labelOverlap":false,"format":"d","title":"Corticosterone (ng/ml*mg⁻¹)","titlePadding":6.5}},
        "color":{"field":"grp","type":"nominal","scale":{"domain":["noinj_SHC","noinj_CSC","ctrl_SHC","ctrl_CSC","anti_SHC","anti_CSC"],"range":["#b8d8eb","#0d6a8d","#f4b6ba","#9c1c2f","#f8f3a8","#e6da00"]},"legend":null}}},
      {"data":{"name":"bars"},"transform":[{"filter":"datum.p==='K'"}],"mark":{"type":"rule","color":"#555"},"encoding":{"x":{"field":"slot","type":"nominal"},"y":{"field":"m","type":"quantitative"},"y2":{"field":"hi"}}},
      {"data":{"name":"bars"},"transform":[{"filter":"datum.p==='K'"}],"mark":{"type":"tick","color":"#555","size":5,"thickness":1},"encoding":{"x":{"field":"slot","type":"nominal"},"y":{"field":"hi","type":"quantitative"}}},
      {"data":{"values":[{}]},"mark":{"type":"rule","color":"#6a6a6a"},"encoding":{"y":{"datum":0,"type":"quantitative"}}},
      {"data":{"name":"brkC"},"transform":[{"filter":"datum.p==='K'"}],"mark":{"type":"line","color":"#333","strokeWidth":1},"encoding":{"x":{"field":"slot","type":"nominal"},"y":{"field":"y","type":"quantitative"},"detail":{"field":"id"},"order":{"field":"o"}}},
      {"data":{"name":"sigC"},"transform":[{"filter":"datum.p==='K'"}],"mark":{"type":"text","fontSize":9,"color":"#333","baseline":"middle"},"encoding":{"x":{"field":"slot","type":"nominal"},"y":{"field":"y","type":"quantitative"},"text":{"field":"t"}}},
      {"data":{"name":"sigE"},"transform":[{"filter":"datum.p==='K'"}],"mark":{"type":"text","fontSize":9,"color":"#333","baseline":"middle"},"encoding":{"x":{"field":"slot","type":"nominal","bandPosition":1},"y":{"field":"y","type":"quantitative"},"text":{"field":"t"}}}
    ]}
   ]},
  {"width":47.5,"height":1,"data":{"values":[]},"mark":"point"},
  {"width":79,"height":122,"title":{"text":"L","anchor":"start","frame":"group","dx":-29,"dy":15.5},
   "layer":[
    {"data":{"name":"bars"},"transform":[{"filter":"datum.p==='L'"}],"mark":{"type":"bar","stroke":"#3c3c3c","strokeWidth":0.8},
     "encoding":{"x":{"field":"slot","type":"nominal","scale":{"domain":["ctrl_SHC","ctrl_CSC","g1","anti_SHC","anti_CSC"],"paddingInner":0.06,"paddingOuter":0.69,"align":0.59},"axis":{"orient":"top","title":"DRI tph2","titleFontWeight":"bold","titlePadding":8}},
      "y":{"field":"m","type":"quantitative","scale":{"domain":[1,3],"nice":false,"zero":false},"axis":{"values":[1,1.5,2,2.5,3],"tickCount":12,"labelOverlap":false,"format":".1f","title":"mRNA expression (GV x area)","titlePadding":2}},
      "y2":{"datum":1},
      "color":{"field":"grp","type":"nominal","scale":{"domain":["noinj_SHC","noinj_CSC","ctrl_SHC","ctrl_CSC","anti_SHC","anti_CSC"],"range":["#b8d8eb","#0d6a8d","#f4b6ba","#9c1c2f","#f8f3a8","#e6da00"]},"legend":null}}},
    {"data":{"name":"bars"},"transform":[{"filter":"datum.p==='L'"}],"mark":{"type":"rule","color":"#555"},"encoding":{"x":{"field":"slot","type":"nominal"},"y":{"field":"m","type":"quantitative"},"y2":{"field":"hi"}}},
    {"data":{"name":"bars"},"transform":[{"filter":"datum.p==='L'"}],"mark":{"type":"tick","color":"#555","size":5,"thickness":1},"encoding":{"x":{"field":"slot","type":"nominal"},"y":{"field":"hi","type":"quantitative"}}},
    {"data":{"values":[{}]},"mark":{"type":"rule","color":"#6a6a6a"},"encoding":{"y":{"datum":1,"type":"quantitative"}}},
    {"data":{"name":"brkC"},"transform":[{"filter":"datum.p==='L'"}],"mark":{"type":"line","color":"#444","strokeWidth":1},"encoding":{"x":{"field":"slot","type":"nominal"},"y":{"field":"y","type":"quantitative"},"detail":{"field":"id"},"order":{"field":"o"}}},
    {"data":{"name":"brkE"},"transform":[{"filter":"datum.p==='L'"}],"mark":{"type":"line","color":"#444","strokeWidth":1},"encoding":{"x":{"field":"slot","type":"nominal","bandPosition":1},"y":{"field":"y","type":"quantitative"},"detail":{"field":"id"},"order":{"field":"o"}}},
    {"data":{"name":"sigC"},"transform":[{"filter":"datum.p==='L'"}],"mark":{"type":"text","fontSize":9,"color":"#333","baseline":"middle"},"encoding":{"x":{"field":"slot","type":"nominal"},"y":{"field":"y","type":"quantitative"},"text":{"field":"t"}}}
   ]}
 ]},
{"width":1,"height":13.5,"data":{"values":[]},"mark":"point"},
{"spacing":0,
 "hconcat":[
  {"width":729,"height":183,"title":{"text":"M    Hypothetical model","anchor":"start","frame":"group","dx":-15,"offset":12,"fontSize":10.5},
   "layer":[
    {"data":{"name":"mbox"},"mark":{"type":"rect"},"encoding":{"x":{"field":"x1","type":"quantitative","scale":{"domain":[0,100],"nice":false,"zero":false},"axis":null},"x2":{"field":"x2"},"y":{"field":"y1","type":"quantitative","scale":{"domain":[0,183],"nice":false,"zero":false,"reverse":true},"axis":null},"y2":{"field":"y2"},
      "color":{"field":"k","type":"nominal","scale":{"domain":["inadequate","mvaccae","vehicle","adequate","inputs"],"range":["#dedede","#aeaeae","#a4a4a4","#aad471","#e0e0e0"]},"legend":null}}},
    {"data":{"name":"mg1"},"mark":{"type":"rect","color":{"gradient":"linear","x1":0,"y1":0,"x2":1,"y2":0,"stops":[{"offset":0,"color":"#dddddd"},{"offset":1,"color":"#eeb9c0"}]}},"encoding":{"x":{"field":"x1","type":"quantitative","axis":null},"x2":{"field":"x2"},"y":{"field":"y1","type":"quantitative","axis":null},"y2":{"field":"y2"}}},
    {"data":{"name":"mg2"},"mark":{"type":"rect","color":{"gradient":"linear","x1":0,"y1":0,"x2":1,"y2":0,"stops":[{"offset":0,"color":"#e9808f"},{"offset":1,"color":"#e04761"}]}},"encoding":{"x":{"field":"x1","type":"quantitative","axis":null},"x2":{"field":"x2"},"y":{"field":"y1","type":"quantitative","axis":null},"y2":{"field":"y2"}}},
    {"data":{"name":"mwhite"},"mark":{"type":"rect","fill":"#ffffff","stroke":"#8a8a8a","strokeWidth":1.2},"encoding":{"x":{"field":"x1","type":"quantitative","axis":null},"x2":{"field":"x2"},"y":{"field":"y1","type":"quantitative","axis":null},"y2":{"field":"y2"}}},
    {"data":{"name":"mshaft"},"mark":{"type":"rule","color":"#111","strokeWidth":2.2},"encoding":{"x":{"field":"x","type":"quantitative","axis":null},"y":{"field":"y1","type":"quantitative","axis":null},"y2":{"field":"y2"}}},
    {"data":{"name":"mhead"},"mark":{"type":"point","shape":"triangle-up","filled":true,"color":"#111","size":45,"opacity":1},"encoding":{"x":{"field":"x","type":"quantitative","axis":null},"y":{"field":"y","type":"quantitative","axis":null}}},
    {"data":{"name":"mbirth"},"mark":{"type":"rule","color":"#111","strokeWidth":1.3},"encoding":{"x":{"field":"x","type":"quantitative","axis":null},"y":{"field":"y1","type":"quantitative","axis":null},"y2":{"field":"y2"}}},
    {"data":{"name":"mbirthhead"},"mark":{"type":"point","shape":"triangle-up","filled":true,"color":"#111","size":20,"opacity":1},"encoding":{"x":{"field":"x","type":"quantitative","axis":null},"y":{"field":"y","type":"quantitative","axis":null}}},
    {"data":{"name":"mtime"},"mark":{"type":"rule","color":"#111","strokeWidth":3},"encoding":{"x":{"field":"x1","type":"quantitative","axis":null},"x2":{"field":"x2"},"y":{"field":"y","type":"quantitative","axis":null}}},
    {"data":{"name":"mtimehead"},"mark":{"type":"point","shape":"triangle-right","filled":true,"color":"#111","size":70,"opacity":1},"encoding":{"x":{"field":"x","type":"quantitative","axis":null},"y":{"field":"y","type":"quantitative","axis":null}}},
    {"data":{"name":"mtc"},"mark":{"type":"text","fontSize":10.25,"color":"#1b1b1b","baseline":"middle","align":"center"},"encoding":{"x":{"field":"x","type":"quantitative","axis":null},"y":{"field":"y","type":"quantitative","axis":null},"text":{"field":"t"}}},
    {"data":{"name":"mtb"},"mark":{"type":"text","fontSize":10.25,"fontWeight":"bold","color":"#1b1b1b","baseline":"middle","align":"center"},"encoding":{"x":{"field":"x","type":"quantitative","axis":null},"y":{"field":"y","type":"quantitative","axis":null},"text":{"field":"t"}}},
    {"data":{"name":"mtbil"},"mark":{"type":"text","fontSize":10.25,"fontWeight":"bold","fontStyle":"italic","color":"#1b1b1b","baseline":"middle","align":"left"},"encoding":{"x":{"field":"x","type":"quantitative","axis":null},"y":{"field":"y","type":"quantitative","axis":null},"text":{"field":"t"}}},
    {"data":{"name":"mtbr"},"mark":{"type":"text","fontSize":10.25,"fontWeight":"bold","color":"#1b1b1b","baseline":"middle","align":"right"},"encoding":{"x":{"field":"x","type":"quantitative","axis":null},"y":{"field":"y","type":"quantitative","axis":null},"text":{"field":"t"}}},
    {"data":{"name":"mtl"},"mark":{"type":"text","fontSize":10.25,"color":"#1b1b1b","baseline":"middle","align":"left"},"encoding":{"x":{"field":"x","type":"quantitative","axis":null},"y":{"field":"y","type":"quantitative","axis":null},"text":{"field":"t"}}},
    {"data":{"name":"mtil"},"mark":{"type":"text","fontSize":10.25,"fontStyle":"italic","color":"#1b1b1b","baseline":"middle","align":"left"},"encoding":{"x":{"field":"x","type":"quantitative","axis":null},"y":{"field":"y","type":"quantitative","axis":null},"text":{"field":"t"}}}
   ]}
 ]}
],
"config":{
 "font":"Liberation Sans",
 "view":{"stroke":null},
 "concat":{"spacing":0},
 "axis":{"grid":false,"labelFont":"Liberation Sans","titleFont":"Liberation Sans","labelFontSize":9,"labelColor":"#3a3a3a","titleFontSize":9,"titleFontWeight":"normal","titleColor":"#333","domainColor":"#6a6a6a","tickColor":"#6a6a6a","tickSize":4,"labelPadding":2,"labelOverlap":false,"labelFlush":false},
 "axisTop":{"labels":false,"ticks":false,"domain":false,"titleFontSize":10.2,"titleColor":"#222"},
 "title":{"font":"Liberation Sans","fontSize":11.5,"fontWeight":"bold","color":"#1a1a1a","offset":0,"baseline":"alphabetic"},
 "text":{"font":"Liberation Sans"}
}
}
